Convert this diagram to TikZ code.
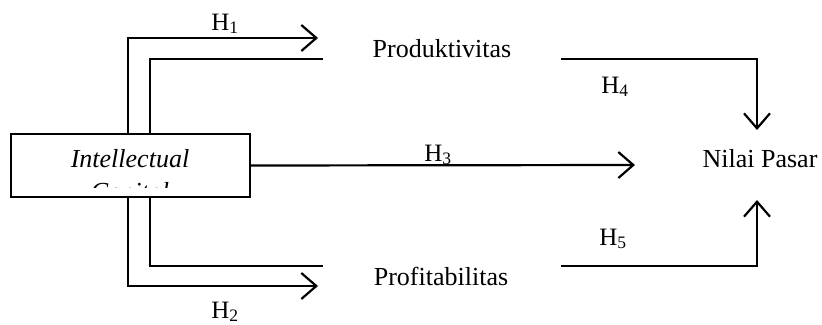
\documentclass[tikz,border=0pt]{standalone}
\usepackage{fontspec}
\setmainfont{Liberation Serif}
\usetikzlibrary{arrows.meta}
\begin{document}
\begin{tikzpicture}[x=1pt,y=-1pt,line width=2.2pt,
  arr/.style={-{Straight Barb[length=15pt,width=26pt,line width=2.2pt]}},
  txt/.style={font=\fontsize{26}{30}\selectfont, inner sep=0pt},
  hlbl/.style={font=\fontsize{25}{29}\selectfont, inner sep=0pt, anchor=base}]
\useasboundingbox (0,0) rectangle (822,324);
% box
\node[draw, minimum width=239pt, minimum height=63pt, inner sep=0pt] (box) at (130.5,165.5) {};
\begin{scope}
  \clip (12,135) rectangle (249,187.5);
  \node[txt, anchor=base] (ic1) at (130,167) {\itshape Intellectual};
  \node[txt, anchor=base] (ic2) at (130,200) {\itshape Capital};
\end{scope}
% other nodes
\node[txt, anchor=base] (prod) at (442,57) {Produktivitas};
\node[txt, anchor=base] (prof) at (441,285) {Profitabilitas};
\node[txt, anchor=base] (nilai) at (760,167) {Nilai Pasar};
% coordinates of connector ends
\coordinate (h1end) at (318,38);
\coordinate (p1in) at (323,59);
\coordinate (h2end) at (318,286);
\coordinate (p2in) at (323,266);
\coordinate (prodout) at (561,59);
\coordinate (profout) at (561,266);
\coordinate (nilaitop) at (757,130);
\coordinate (nilaibot) at (757,200);
\coordinate (h3end) at (635,165);
% connectors
\draw[arr] ([xshift=-2.5pt]box.north) |- (h1end);
\draw ([xshift=19.5pt]box.north) |- (p1in);
\draw[arr] ([xshift=-2.5pt]box.south) |- (h2end);
\draw ([xshift=19.5pt]box.south) |- (p2in);
\draw[arr] (box.east) -- (h3end);
\draw[arr] (prodout) -| (nilaitop);
\draw[arr] (profout) -| (nilaibot);
% labels
\node[hlbl] (l1) at (225,30) {H\textsubscript{1}};
\node[hlbl] (l2) at (225,318) {H\textsubscript{2}};
\node[hlbl] (l3) at (438,161) {H\textsubscript{3}};
\node[hlbl] (l4) at (615,93) {H\textsubscript{4}};
\node[hlbl] (l5) at (613,245) {H\textsubscript{5}};
\end{tikzpicture}
\end{document}
